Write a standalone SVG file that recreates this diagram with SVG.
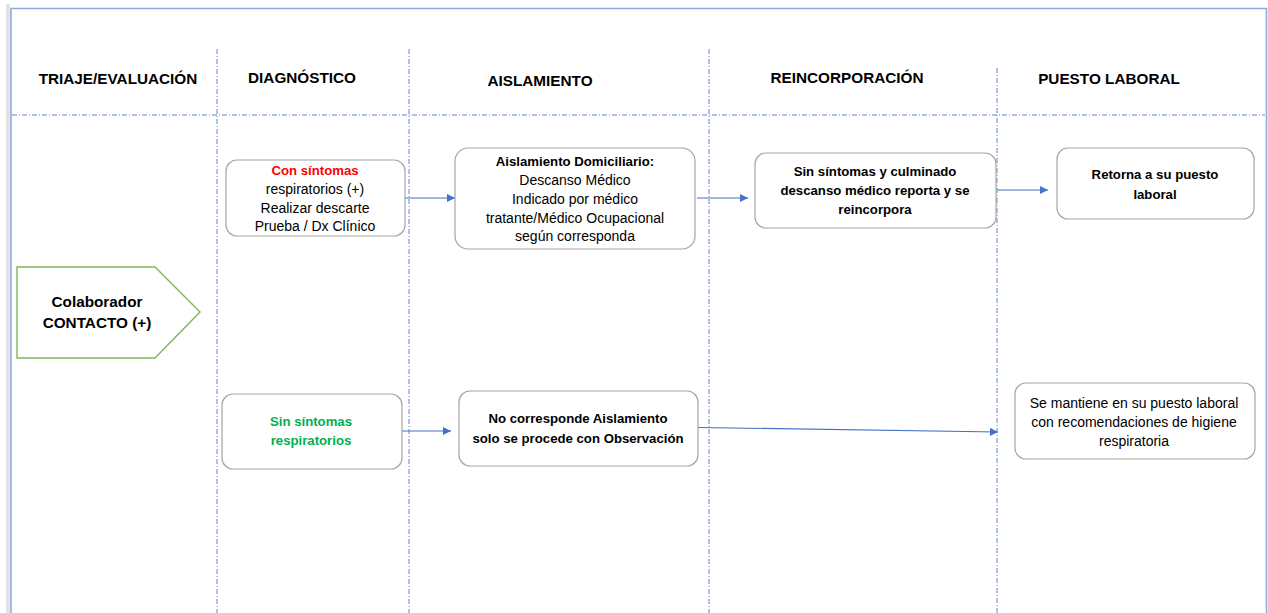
<svg xmlns="http://www.w3.org/2000/svg" width="1268" height="613" viewBox="0 0 1268 613">
<defs>
<style>
.frame{stroke:#8EAADB;stroke-width:1.6;fill:none}
.lane{stroke:#4472C4;stroke-width:1;stroke-dasharray:5 2 1 2;fill:none;opacity:0.85}
.box{fill:#fff;stroke:#A6A6A6;stroke-width:1.2}
.hdr{font-family:"Liberation Sans",Arial,sans-serif;font-weight:bold;font-size:15.3px;fill:#000;text-anchor:middle}
.t{font-family:"Liberation Sans",Arial,sans-serif;font-size:14px;fill:#000;text-anchor:middle}
.b{font-family:"Liberation Sans",Arial,sans-serif;font-size:13.2px;font-weight:bold;fill:#000;text-anchor:middle}
.conn{stroke:#4472C4;stroke-width:1.2;fill:none;marker-end:url(#ah)}
</style>
<marker id="ah" viewBox="0 0 10 10" refX="10" refY="5" markerWidth="9" markerHeight="8" markerUnits="userSpaceOnUse" orient="auto">
<path d="M0,0 L10,5 L0,10 z" fill="#4472C4"/>
</marker>
</defs>
<rect width="1268" height="613" fill="#fff"/>
<g id="frame">
<rect x="6" y="4" width="4" height="609" fill="#E3E3E3"/>
<path class="frame" d="M11,613 V8.5 H1266.5 V613"/>
</g>
<g id="lanes">
<line class="lane" x1="12" y1="115" x2="1265" y2="115"/>
<line class="lane" x1="217" y1="49" x2="217" y2="613"/>
<line class="lane" x1="409" y1="49" x2="409" y2="613"/>
<line class="lane" x1="709" y1="49" x2="709" y2="613"/>
<line class="lane" x1="997" y1="68" x2="997" y2="613"/>
</g>
<g id="headers">
<text class="hdr" x="118" y="83.5">TRIAJE/EVALUACIÓN</text>
<text class="hdr" x="302" y="83">DIAGNÓSTICO</text>
<text class="hdr" x="540" y="85.5">AISLAMIENTO</text>
<text class="hdr" x="847" y="83">REINCORPORACIÓN</text>
<text class="hdr" x="1109" y="84">PUESTO LABORAL</text>
</g>
<g id="connectors">
<line class="conn" x1="405" y1="198" x2="455" y2="198"/>
<line class="conn" x1="697" y1="198" x2="748" y2="198"/>
<line class="conn" x1="997" y1="190" x2="1048" y2="190"/>
<line class="conn" x1="401" y1="431" x2="451" y2="431"/>
<line class="conn" x1="698" y1="427.5" x2="998" y2="432"/>
</g>
<g id="n-colaborador">
<path d="M17,267 H155 L200,312 L155,358 H17 Z" fill="#fff" stroke="#7DB85A" stroke-width="1.4"/>
<text class="hdr" x="97" y="306.5">Colaborador</text>
<text class="hdr" x="97" y="328">CONTACTO (+)</text>
</g>
<g id="n-con-sintomas">
<rect class="box" x="226" y="160" width="179" height="76" rx="11"/>
<text class="b" x="315" y="175" style="fill:#FF0000">Con síntomas</text>
<text class="t" x="315" y="194">respiratorios (+)</text>
<text class="t" x="315" y="212.5">Realizar descarte</text>
<text class="t" x="315" y="231">Prueba / Dx Clínico</text>
</g>
<g id="n-aislamiento">
<rect class="box" x="455" y="148" width="240" height="101" rx="13"/>
<text class="b" x="575" y="166">Aislamiento Domiciliario:</text>
<text class="t" x="575" y="185">Descanso Médico</text>
<text class="t" x="575" y="204">Indicado por médico</text>
<text class="t" x="575" y="222.5">tratante/Médico Ocupacional</text>
<text class="t" x="575" y="241">según corresponda</text>
</g>
<g id="n-reincorpora">
<rect class="box" x="755" y="153" width="241" height="75" rx="11"/>
<text class="b" x="875" y="176">Sin síntomas y culminado</text>
<text class="b" x="875" y="195">descanso médico reporta y se</text>
<text class="b" x="875" y="214">reincorpora</text>
</g>
<g id="n-retorna">
<rect class="box" x="1057" y="148" width="197" height="71" rx="11"/>
<text class="b" x="1155" y="179">Retorna a su puesto</text>
<text class="b" x="1155" y="198.5">laboral</text>
</g>
<g id="n-sin-sintomas">
<rect class="box" x="222" y="394" width="180" height="75" rx="11"/>
<text class="b" x="311" y="426" style="fill:#00B050">Sin síntomas</text>
<text class="b" x="311" y="445" style="fill:#00B050">respiratorios</text>
</g>
<g id="n-observacion">
<rect class="box" x="459" y="391" width="239" height="75" rx="11"/>
<text class="b" x="578" y="423">No corresponde Aislamiento</text>
<text class="b" x="578" y="443">solo se procede con Observación</text>
</g>
<g id="n-mantiene">
<rect class="box" x="1015" y="383" width="240" height="76" rx="11"/>
<text class="t" x="1134" y="408">Se mantiene en su puesto laboral</text>
<text class="t" x="1134" y="427">con recomendaciones de higiene</text>
<text class="t" x="1134" y="445.5">respiratoria</text>
</g>
</svg>
